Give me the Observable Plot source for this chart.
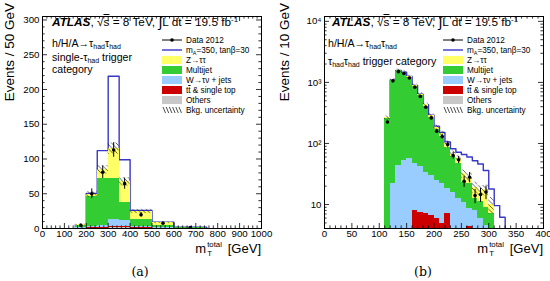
<!DOCTYPE html>
<html><head><meta charset="utf-8">
<script src="https://cdn.jsdelivr.net/npm/d3@7"></script>
<script src="https://cdn.jsdelivr.net/npm/@observablehq/plot@0.6"></script>
<style>
body{margin:0;background:#fff;font-family:"Liberation Sans",Arial,sans-serif;}
#wrap{position:relative;width:550px;height:281px;overflow:hidden;background:#fff;}
.panel{position:absolute;top:0;width:275px;height:281px;}
.panel svg{position:absolute;left:0;top:0;}
.ov{position:absolute;white-space:nowrap;line-height:1;color:#000;}
.sub{font-size:66%;vertical-align:-0.3em;line-height:0;}
.sup{font-size:68%;vertical-align:0.45em;line-height:0;}
.leg{position:absolute;display:flex;align-items:center;height:10px;font-size:8.2px;white-space:nowrap;}
.leg svg{position:static;margin-right:4px;flex:none;}
.ytitle{position:absolute;width:110px;text-align:right;font-size:13.5px;line-height:1;transform-origin:0 0;transform:rotate(-90deg);white-space:nowrap;}
.xtitle{position:absolute;font-size:13px;line-height:1;white-space:nowrap;}
.cap{position:absolute;font-family:"DejaVu Serif","Liberation Serif",serif;font-size:12.5px;line-height:1;transform:translateX(-50%);}
</style></head><body>
<div id="wrap"><div id="pa" class="panel" style="left:0"></div><div id="pb" class="panel" style="left:275px"></div></div>
<script>
// ---------- Panel (a): single-tau_had trigger category, Events / 50 GeV ----------
const binLoA = [150, 200, 250, 300, 350, 400, 500, 600];
const binHiA = [200, 250, 300, 350, 400, 500, 600, 750];
const othersA = [0.5, 0.5, 0.5, 1, 1, 0.5, 0.3, 0.1];
const ttbarA  = [0, 0.5, 1, 2, 2, 0.5, 0.2, 0.1];
const wjetsA  = [0.5, 1.5, 2.5, 9.5, 8, 2, 1, 0.3];
const multijetA = [4, 44, 68, 59.5, 26, 9.5, 3.3, 0.5];
const ztautauA = [0.3, 2.5, 12.5, 43, 30, 12, 3.2, 0.5];
const bkgErrA = [0.8, 4, 6, 8, 6, 3, 1, 0.3];
const dataA    = [4.5, 50, 81, 113, 64.5, 19.7, 7.6, 1.5];
const dataErrA = [2, 7, 9, 10.5, 8, 3.2, 2, 0.8];
const signalA  = [5.5, 50.5, 112, 219, 99, 26, 9, 2];   // bkg + mA=350 signal
const xMajorA = [0, 100, 200, 300, 400, 500, 600, 700, 800, 900, 1000];
const yMajorA = [0, 50, 100, 150, 200, 250, 300];

// ---------- Panel (b): tau_had tau_had trigger category, Events / 10 GeV ----------
const binLoB = [110,120,130,140,150,160,170,180,190,200,210,220,230,240,250,260,270,280,290,300];
const othersB = [0.5,1,1,1,1,1,1,1,1,1,0.8,1,0.5,0.5,0.5,0.4,0.5,0.3,0.3,0.2];
const ttbarB  = [0.5,1,2,2.5,3,7,6.5,6,5.6,5,4,6,2.5,1.5,1,4,1,0.5,0.5,0.3];
const wjetsB  = [3,20,41,48.5,52,39,34.5,27,23.4,19,17.5,11,13,10.4,9.4,4.1,6.5,5,3.7,3];
const multijetB = [251,1038,1496,1388,1164,813,578,376,240,145,107.7,69,45,34.1,12.1,13.3,4.4,5.5,4.5,3.5];
const ztautauB = [7,30,35,35,30,30,20,20,17,15,17,13,6,9.5,8.8,6.2,6.8,5.6,8.4,3];
const bkgErrB = [20,60,80,75,65,50,38,28,20,15,12,10,8,7,5,5,4,3.5,3.5,3];
const dataLoB = [110,120,130,140,150,160,170,180,190,200,210,220,230,240,250,260,270,280,290];
const dataB    = [225,1060,1500,1400,1180,835,590,392,262,159,130,96,63.5,54,24,28,14,14.6,16];
const dataErrB = [15,33,39,37,34,29,24,20,16,12.6,11.4,9.8,8,7.3,4.9,5.3,3.7,3.8,4];
const sigLoB = [110,120,130,140,150,160,170,180,190,200,210,220,230,240,250,260,270,280,290,300,310,320];
const signalB = [262,1090,1575,1475,1250,890,640,430,290,192,152,106,82,72,66,60,52,46,36,18,9.6,6.2];
const xMajorB = [0, 50, 100, 150, 200, 250, 300, 350, 400];
const yMajorB = [10, 100, 1000, 10000];

const procColors = ["#c8c8c8", "#cc0000", "#99ccff", "#33cc33", "#ffff66"]; // Others, ttbar, W, Multijet, Z
const sigColor = "#3838c8";

function stackRows(lo, hi, layers, floor) {
  const out = layers.map(() => []);
  for (let i = 0; i < lo.length; i++) {
    let cum = 0;
    layers.forEach((L, k) => {
      const prev = cum; cum += L[i];
      out[k].push({x1: lo[i], x2: hi[i], y1: k === 0 ? floor : prev, y2: cum});
    });
  }
  return out;
}
function stepPts(lo, hi, v, base) {
  const p = [{x: lo[0], y: base}];
  for (let i = 0; i < lo.length; i++) { p.push({x: lo[i], y: v[i]}, {x: hi[i], y: v[i]}); }
  p.push({x: hi[hi.length - 1], y: base});
  return p;
}

function makePanel(cfg) {
  const FW = cfg.width - cfg.ml - cfg.mr, FH = cfg.height - cfg.mt - cfg.mb;
  const layers = stackRows(cfg.lo, cfg.hi, cfg.layers, cfg.floor);
  const totals = cfg.lo.map((_, i) => cfg.layers.reduce((s, L) => s + L[i], 0));
  const hatchRows = cfg.lo.map((l, i) => ({x1: l, x2: cfg.hi[i], y1: totals[i] - cfg.bkgErr[i], y2: totals[i] + cfg.bkgErr[i]}));
  const dataRows = cfg.dataLo.map((l, i) => ({x: l + cfg.dataW[i] / 2, y: cfg.data[i], lo: cfg.data[i] - cfg.dataErr[i], hi: cfg.data[i] + cfg.dataErr[i]}));
  const marks = [];
  marks.push(Plot.line(cfg.sigPts, {x: "x", y: "y", stroke: sigColor, strokeWidth: 1.4, clip: true}));
  layers.forEach((rows, k) => marks.push(Plot.rect(rows, {x1: "x1", x2: "x2", y1: "y1", y2: "y2", fill: procColors[k], clip: true, shapeRendering: "crispEdges"})));
  marks.push(Plot.rect(hatchRows, {x1: "x1", x2: "x2", y1: "y1", y2: "y2", fill: `url(#${cfg.id})`, clip: true}));
  marks.push(Plot.ruleX(dataRows, {x: "x", y1: "lo", y2: "hi", stroke: "black", strokeWidth: 1, clip: true}));
  marks.push(Plot.dot(dataRows, {x: "x", y: "y", r: 1.8, fill: "black", stroke: "none", clip: true}));
  const maj = 5, mnr = 2.6;
  const tx = (vals, len) => [
    Plot.tickX(vals, {x: d => d, insetTop: FH - len, stroke: "black", strokeWidth: 0.8}),
    Plot.tickX(vals, {x: d => d, insetBottom: FH - len, stroke: "black", strokeWidth: 0.8})];
  const ty = (vals, len) => [
    Plot.tickY(vals, {y: d => d, insetRight: FW - len, stroke: "black", strokeWidth: 0.8}),
    Plot.tickY(vals, {y: d => d, insetLeft: FW - len, stroke: "black", strokeWidth: 0.8})];
  marks.push(...tx(cfg.xMajor, maj), ...tx(cfg.xMinor, mnr), ...ty(cfg.yMajor, maj), ...ty(cfg.yMinor, mnr));
  marks.push(Plot.frame({stroke: "black", strokeWidth: 1}));
  marks.push(Plot.axisX({ticks: cfg.xMajor, tickSize: 0, tickPadding: 2, label: null, tickFormat: d => String(d)}));
  marks.push(Plot.axisY({ticks: cfg.yMajor, tickSize: 0, tickPadding: 3, label: null, tickFormat: cfg.yFmt}));
  const svg = Plot.plot({
    width: cfg.width, height: cfg.height,
    marginLeft: cfg.ml, marginRight: cfg.mr, marginTop: cfg.mt, marginBottom: cfg.mb,
    x: {domain: cfg.xDomain},
    y: {type: cfg.yType, domain: cfg.yDomain},
    style: {fontFamily: "Liberation Sans, Arial, sans-serif", fontSize: "9.7px", background: "transparent", color: "black"},
    marks
  });
  const defs = d3.select(svg).insert("defs", ":first-child");
  const pat = defs.append("pattern").attr("id", cfg.id).attr("patternUnits", "userSpaceOnUse").attr("width", 4.5).attr("height", 4.5);
  pat.append("path").attr("d", "M-1,-1 L5.5,5.5 M-1,3.5 L1,5.5 M3.5,-1 L5.5,1").attr("stroke", "black").attr("stroke-width", 0.6);
  return svg;
}

const supMap = {"1": "¹", "2": "²", "3": "³", "4": "⁴"};
const svgA = makePanel({
  id: "hatchA", width: 275, height: 258, ml: 42, mr: 14, mt: 16, mb: 30,
  xDomain: [0, 1000], yType: "linear", yDomain: [0, 305], floor: 0,
  lo: binLoA, hi: binHiA, layers: [othersA, ttbarA, wjetsA, multijetA, ztautauA], bkgErr: bkgErrA,
  dataLo: binLoA, dataW: binLoA.map((l, i) => binHiA[i] - l), data: dataA, dataErr: dataErrA,
  sigPts: stepPts(binLoA, binHiA, signalA, 0),
  xMajor: xMajorA, xMinor: d3.range(0, 1001, 20).filter(d => d % 100),
  yMajor: yMajorA, yMinor: d3.range(0, 305, 10).filter(d => d % 50),
  yFmt: d => String(d)
});
const sigHiB = sigLoB.map(d => d + 10);
const logMinor = [];
for (let e = 0; e <= 4; e++) for (let k = 2; k <= 9; k++) { const v = k * Math.pow(10, e); if (v > 4.05 && v < 12000) logMinor.push(v); }
const svgB = makePanel({
  id: "hatchB", width: 275, height: 258, ml: 49, mr: 7, mt: 16, mb: 30,
  xDomain: [0, 400], yType: "log", yDomain: [4.05, 12000], floor: 0.5,
  lo: binLoB, hi: binLoB.map(d => d + 10), layers: [othersB, ttbarB, wjetsB, multijetB, ztautauB], bkgErr: bkgErrB,
  dataLo: dataLoB, dataW: dataLoB.map(() => 10), data: dataB, dataErr: dataErrB,
  sigPts: stepPts(sigLoB, sigHiB, signalB, 1),
  xMajor: xMajorB, xMinor: d3.range(0, 401, 10).filter(d => d % 50),
  yMajor: yMajorB, yMinor: logMinor,
  yFmt: d => d === 10 ? "10" : "10" + supMap[String(Math.round(Math.log10(d)))]
});
document.getElementById("pa").appendChild(svgA);
document.getElementById("pb").appendChild(svgB);

// ---------- overlays: annotations and legends ----------
const atlas = `<b><i>ATLAS</i></b>, √<span style="text-decoration:overline">s</span> = 8 TeV, <span style="font-size:125%;vertical-align:-0.1em;line-height:0">∫</span>L dt = 19.5 fb<span class="sup">-1</span>`;
const tt = `τ<span class="sub">had</span>τ<span class="sub">had</span>`;
function sw(kind, color) {
  if (kind === "data") return `<svg width="20" height="8"><line x1="0" y1="4" x2="20" y2="4" stroke="black" stroke-width="1"/><circle cx="10" cy="4" r="1.8" fill="black"/></svg>`;
  if (kind === "line") return `<svg width="20" height="8"><line x1="0" y1="4" x2="20" y2="4" stroke="${sigColor}" stroke-width="1.4"/></svg>`;
  if (kind === "hatch") { let s = ""; for (let i = 0; i < 6; i++) s += `<line x1="${1 + i * 3.2}" y1="1" x2="${3.5 + i * 3.2}" y2="7" stroke="black" stroke-width="0.7"/>`; return `<svg width="20" height="8">${s}</svg>`; }
  return `<svg width="20" height="8"><rect x="0.5" y="0.5" width="19" height="7" fill="${color}" stroke="${color}"/></svg>`;
}
const legendItems = [
  [sw("data"), "Data 2012"],
  [sw("line"), `m<span class="sub">A</span>=350, tanβ=30`],
  [sw("box", procColors[4]), "Z→ττ"],
  [sw("box", procColors[3]), "Multijet"],
  [sw("box", procColors[2]), "W→τν + jets"],
  [sw("box", procColors[1]), `t<span style="text-decoration:overline">t</span> &amp; single top`],
  [sw("box", procColors[0]), "Others"],
  [sw("hatch"), "Bkg. uncertainty"]
];
function overlay(el, o) {
  let h = "";
  h += `<div class="ov" style="left:${o.atlasX}px;top:16.8px;font-size:11.8px">${atlas}</div>`;
  o.lines.forEach(([txt, top]) => { h += `<div class="ov" style="left:${o.textX}px;top:${top}px;font-size:10.6px">${txt}</div>`; });
  legendItems.forEach(([s, t], i) => { h += `<div class="leg" style="left:${o.legX}px;top:${35 + i * 10}px">${s}<span>${t}</span></div>`; });
  h += `<div class="ytitle" style="left:${o.ytX}px;top:113px">${o.ytitle}</div>`;
  h += `<div class="xtitle" style="right:${o.xtR}px;top:242px">m<span style="display:inline-block;position:relative;width:18px;height:1em;vertical-align:top"><span style="position:absolute;left:1px;top:-1px;font-size:60%;line-height:1">total</span><span style="position:absolute;left:1px;top:7.5px;font-size:60%;line-height:1">T</span></span> [GeV]</div>`;
  h += `<div class="cap" style="left:${o.capX}px;top:266px">${o.cap}</div>`;
  el.insertAdjacentHTML("beforeend", h);
}
overlay(document.getElementById("pa"), {
  atlasX: 52, textX: 52, lines: [[`h/H/A→${tt}`, 37.5], [`single-τ<span class="sub">had</span> trigger`, 51.5], ["category", 63.5]],
  legX: 162, ytX: 3, ytitle: "Events / 50 GeV", xtR: 14, capX: 140, cap: "(a)"
});
overlay(document.getElementById("pb"), {
  atlasX: 57, textX: 53, lines: [[`h/H/A→${tt}`, 37.5], [`${tt} trigger category`, 56]],
  legX: 168, ytX: 3, ytitle: "Events / 10 GeV", xtR: 7, capX: 148, cap: "(b)"
});
</script>
</body></html>
